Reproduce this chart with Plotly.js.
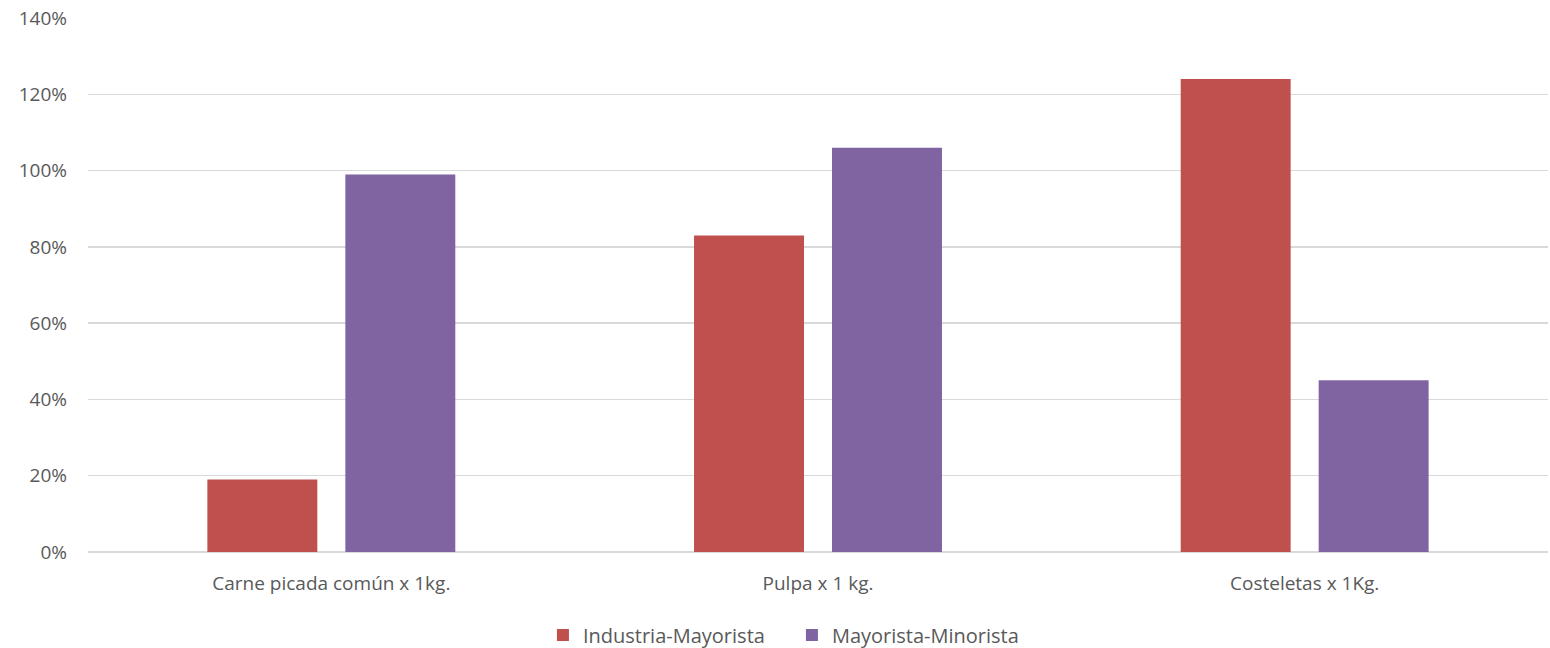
<!DOCTYPE html>
<html>
<head>
<meta charset="utf-8">
<script src="https://cdn.plot.ly/plotly-3.0.1.min.js"></script>
<style>html,body{margin:0;padding:0;background:#fff;}#chart{width:1550px;height:648px;}</style>
</head>
<body>
<div id="chart"></div>
<script>
const categories = ["Carne picada común x 1kg.", "Pulpa x 1 kg.", "Costeletas x 1Kg."];
const industriaMayorista = [0.19, 0.83, 1.24];
const mayoristaMinorista = [0.99, 1.06, 0.45];
const seriesNames = ["Industria-Mayorista", "Mayorista-Minorista"];
const tickVals = [0, 0.2, 0.4, 0.6, 0.8, 1.0, 1.2, 1.4];

const font = {family: "'Open Sans', sans-serif", color: "#595959"};

const data = [
  {type: "bar", name: seriesNames[0], x: categories, y: industriaMayorista, marker: {color: "#C0504D"}, hoverinfo: "skip"},
  {type: "bar", name: seriesNames[1], x: categories, y: mayoristaMinorista, marker: {color: "#8064A2"}, hoverinfo: "skip"}
];

const layout = {
  width: 1550, height: 648,
  margin: {l: 88, r: 2, t: 18, b: 96, autoexpand: false},
  paper_bgcolor: "#fff", plot_bgcolor: "#fff",
  barmode: "group", bargap: 0.433, bargroupgap: 0.203,
  font: Object.assign({size: 19}, font),
  xaxis: {type: "category", automargin: false, showgrid: false, showline: false, zeroline: false, ticks: "", ticklabelstandoff: 18, tickfont: Object.assign({size: 19}, font)},
  yaxis: {range: [0, 1.4], automargin: false, tickvals: tickVals, tickformat: ".0%", showgrid: true, gridcolor: "#D9D9D9", gridwidth: 1.3, zeroline: true, zerolinecolor: "#D9D9D9", zerolinewidth: 1.3, showline: false, ticks: "", ticklabelstandoff: 20, tickfont: Object.assign({size: 19}, font)},
  legend: {orientation: "h", x: 0.3116, xanchor: "left", yref: "container", y: 0.02, yanchor: "middle", font: Object.assign({size: 20}, font), itemwidth: 30, entrywidth: 204, entrywidthmode: "pixels", tracegroupgap: 0},
  showlegend: true
};

Plotly.newPlot("chart", data, layout, {staticPlot: true, displayModeBar: false});
</script>
</body>
</html>
